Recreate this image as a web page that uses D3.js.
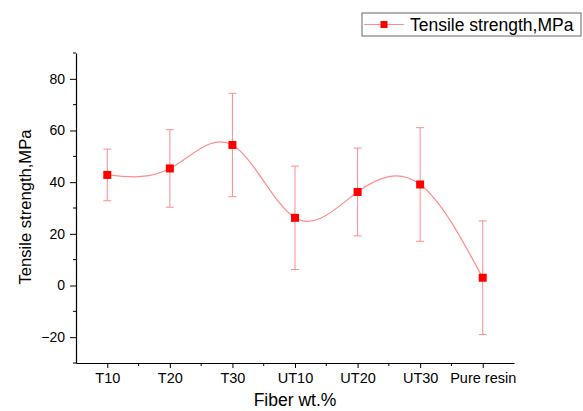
<!DOCTYPE html>
<html>
<head>
<meta charset="utf-8">
<script src="https://cdn.jsdelivr.net/npm/d3@7"></script>
<style>
  body { margin: 0; background: #fff; }
  svg { font-family: "Liberation Sans", Arial, sans-serif; }
</style>
</head>
<body>
<div id="chart"></div>
<script>
// data
const categories = ["T10", "T20", "T30", "UT10", "UT20", "UT30", "Pure resin"];
const strength = [42.8, 45.3, 54.4, 26.2, 36.2, 39.1, 3.0];
const errors = [10, 15, 20, 20, 17, 22, 22];
const yTicks = [-20, 0, 20, 40, 60, 80];

const width = 583, height = 411;
const plot = { left: 76, right: 514, top: 53, bottom: 363 };

const svg = d3.select("#chart").append("svg")
    .attr("width", width)
    .attr("height", height);

const x = d3.scaleLinear().domain([0.5, categories.length + 0.5]).range([plot.left, plot.right]);
const y = d3.scaleLinear().domain([-30, 90]).range([plot.bottom, plot.top]);

const lineColor = "#ff8c8c";

// x axis
const xAxis = svg.append("g")
    .attr("transform", `translate(0,${plot.bottom})`)
    .call(d3.axisBottom(x)
        .tickValues(d3.range(1, categories.length + 1))
        .tickFormat(i => categories[i - 1])
        .tickSize(5)
        .tickSizeOuter(0)
        .tickPadding(5));
xAxis.selectAll("text").attr("font-size", 14.5);
// minor x ticks
xAxis.selectAll(".minor")
    .data(d3.range(1.5, categories.length + 0.5, 1))
    .enter().append("line")
    .attr("x1", d => x(d)).attr("x2", d => x(d))
    .attr("y1", 0).attr("y2", 3)
    .attr("stroke", "#000");

// y axis
const yAxis = svg.append("g")
    .attr("transform", `translate(${plot.left},0)`)
    .call(d3.axisLeft(y)
        .tickValues(yTicks)
        .tickFormat(d => d < 0 ? "\u2212" + Math.abs(d) : d)
        .tickSize(6)
        .tickSizeOuter(0)
        .tickPadding(5));
yAxis.selectAll("text").attr("font-size", 14);
yAxis.selectAll(".minor")
    .data(d3.range(-30, 91, 10).filter(d => !yTicks.includes(d)))
    .enter().append("line")
    .attr("x1", 0).attr("x2", -3)
    .attr("y1", d => y(d)).attr("y2", d => y(d))
    .attr("stroke", "#000");

[xAxis, yAxis].forEach(g => {
    g.select(".domain").attr("stroke", "#000").attr("stroke-width", 1.2);
    g.selectAll("text").attr("fill", "#000");
});

// axis titles
svg.append("text")
    .attr("x", x(4))
    .attr("y", 406)
    .attr("text-anchor", "middle")
    .attr("font-size", 17.5)
    .text("Fiber wt.%");

svg.append("text")
    .attr("transform", "translate(31,207) rotate(-90)")
    .attr("text-anchor", "middle")
    .attr("font-size", 16.6)
    .text("Tensile strength,MPa");

// smooth line
const line = d3.line()
    .x((d, i) => x(i + 1))
    .y(d => y(d))
    .curve(d3.curveNatural);

svg.append("path")
    .datum(strength)
    .attr("fill", "none")
    .attr("stroke", lineColor)
    .attr("stroke-width", 1.2)
    .attr("d", line);

// error bars
const bars = svg.selectAll(".err")
    .data(strength)
    .enter().append("g")
    .attr("class", "err");
bars.append("line")
    .attr("x1", (d, i) => x(i + 1)).attr("x2", (d, i) => x(i + 1))
    .attr("y1", (d, i) => y(d + errors[i]))
    .attr("y2", (d, i) => y(d - errors[i]))
    .attr("stroke", lineColor);
bars.append("line")
    .attr("x1", (d, i) => x(i + 1) - 4).attr("x2", (d, i) => x(i + 1) + 4)
    .attr("y1", (d, i) => y(d + errors[i])).attr("y2", (d, i) => y(d + errors[i]))
    .attr("stroke", lineColor);
bars.append("line")
    .attr("x1", (d, i) => x(i + 1) - 4).attr("x2", (d, i) => x(i + 1) + 4)
    .attr("y1", (d, i) => y(d - errors[i])).attr("y2", (d, i) => y(d - errors[i]))
    .attr("stroke", lineColor);

// markers
svg.selectAll(".pt")
    .data(strength)
    .enter().append("rect")
    .attr("class", "pt")
    .attr("x", (d, i) => x(i + 1) - 4)
    .attr("y", d => y(d) - 4)
    .attr("width", 8).attr("height", 8)
    .attr("fill", "#ff0000");

// legend
const legend = svg.append("g").attr("transform", "translate(362,13)");
legend.append("rect")
    .attr("width", 219).attr("height", 23)
    .attr("fill", "#fff")
    .attr("stroke", "#666");
legend.append("line")
    .attr("x1", 2).attr("x2", 42).attr("y1", 11.5).attr("y2", 11.5)
    .attr("stroke", lineColor).attr("stroke-width", 1.2);
legend.append("rect")
    .attr("x", 18.5).attr("y", 8).attr("width", 7).attr("height", 7)
    .attr("fill", "#ff0000");
legend.append("text")
    .attr("x", 48).attr("y", 18)
    .attr("font-size", 17.5)
    .text("Tensile strength,MPa");
</script>
</body>
</html>
